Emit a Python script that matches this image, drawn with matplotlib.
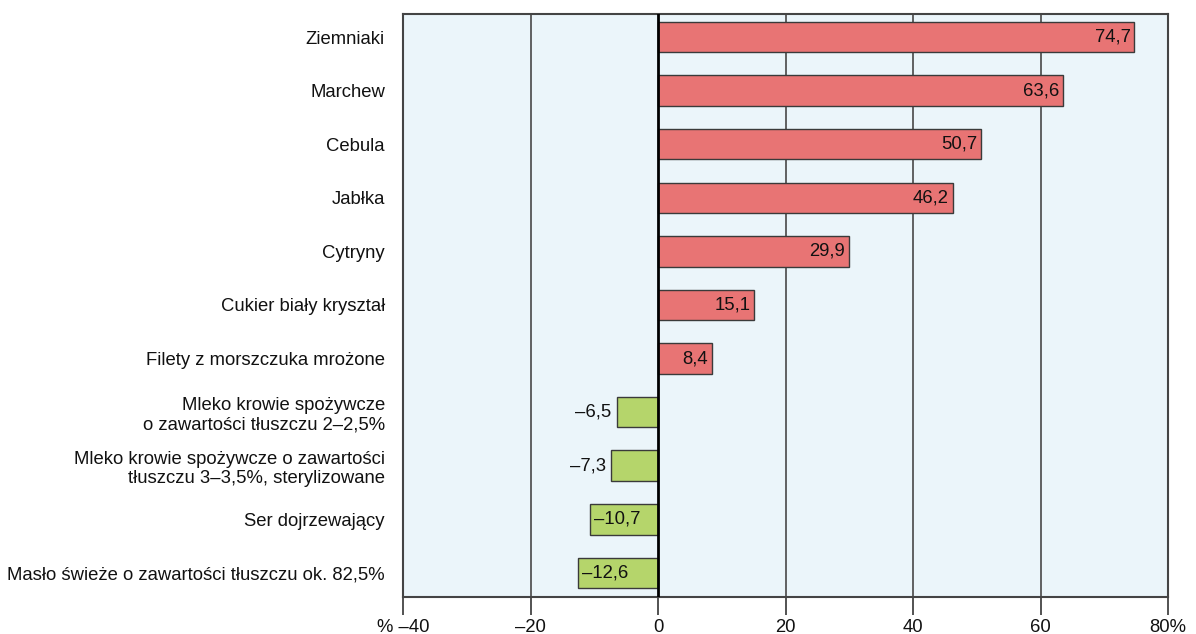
import matplotlib
matplotlib.use("Agg")
import matplotlib.pyplot as plt

# Data (top to bottom)
categories = [
    "Ziemniaki",
    "Marchew",
    "Cebula",
    "Jabłka",
    "Cytryny",
    "Cukier biały kryształ",
    "Filety z morszczuka mrożone",
    "Mleko krowie spożywcze\no zawartości tłuszczu 2–2,5%",
    "Mleko krowie spożywcze o zawartości\ntłuszczu 3–3,5%, sterylizowane",
    "Ser dojrzewający",
    "Masło świeże o zawartości tłuszczu ok. 82,5%",
]
values = [74.7, 63.6, 50.7, 46.2, 29.9, 15.1, 8.4, -6.5, -7.3, -10.7, -12.6]
tick_values = [-40, -20, 0, 20, 40, 60, 80]
tick_labels = ["% –40", "–20", "0", "20", "40", "60", "80%"]

plt.rcParams['font.family'] = ['Liberation Sans', 'DejaVu Sans']

RED = '#e87474'
GREEN = '#b5d56b'
EDGE = '#3a3a3a'
FS = 13.3

fig = plt.figure(figsize=(11.96, 6.34), dpi=100)
ax = fig.add_axes([403 / 1196, 1 - 597 / 634, 765 / 1196, 583 / 634])
ax.set_facecolor('#ebf5fa')

y = list(range(len(categories)))
colors = [RED if v > 0 else GREEN for v in values]
ax.barh(y, values, height=0.57, color=colors, edgecolor=EDGE, linewidth=1.0, zorder=3)

# grid
for g in [-20, 20, 40, 60]:
    ax.axvline(g, color='#555555', linewidth=1.3, zorder=1)
ax.axvline(0, color='black', linewidth=2.0, zorder=4)

# value labels
for yi, v in zip(y, values):
    txt = f"{v:.1f}".replace('.', ',').replace('-', '–')
    if v > 0:
        ax.text(v - 0.6, yi, txt, ha='right', va='center', fontsize=FS, color='#111111', zorder=5)
    elif v > -9:
        ax.text(v - 0.8, yi, txt, ha='right', va='center', fontsize=FS, color='#111111', zorder=5)
    else:
        ax.text(v + 0.6, yi, txt, ha='left', va='center', fontsize=FS, color='#111111', zorder=5)

ax.set_xlim(-40, 80)
ax.set_ylim(len(categories) - 0.55, -0.43)
ax.set_xticks(tick_values)
ax.set_xticklabels(tick_labels, fontsize=FS, color='#111111')
ax.set_yticks(y)
ax.set_yticklabels(categories, fontsize=FS, color='#111111')
ax.tick_params(axis='y', length=0, pad=13)
ax.tick_params(axis='x', length=13, width=1.3, color='#444444', pad=3)

for s in ax.spines.values():
    s.set_color('#444444')
    s.set_linewidth(1.5)

plt.savefig("out.png", dpi=100)
